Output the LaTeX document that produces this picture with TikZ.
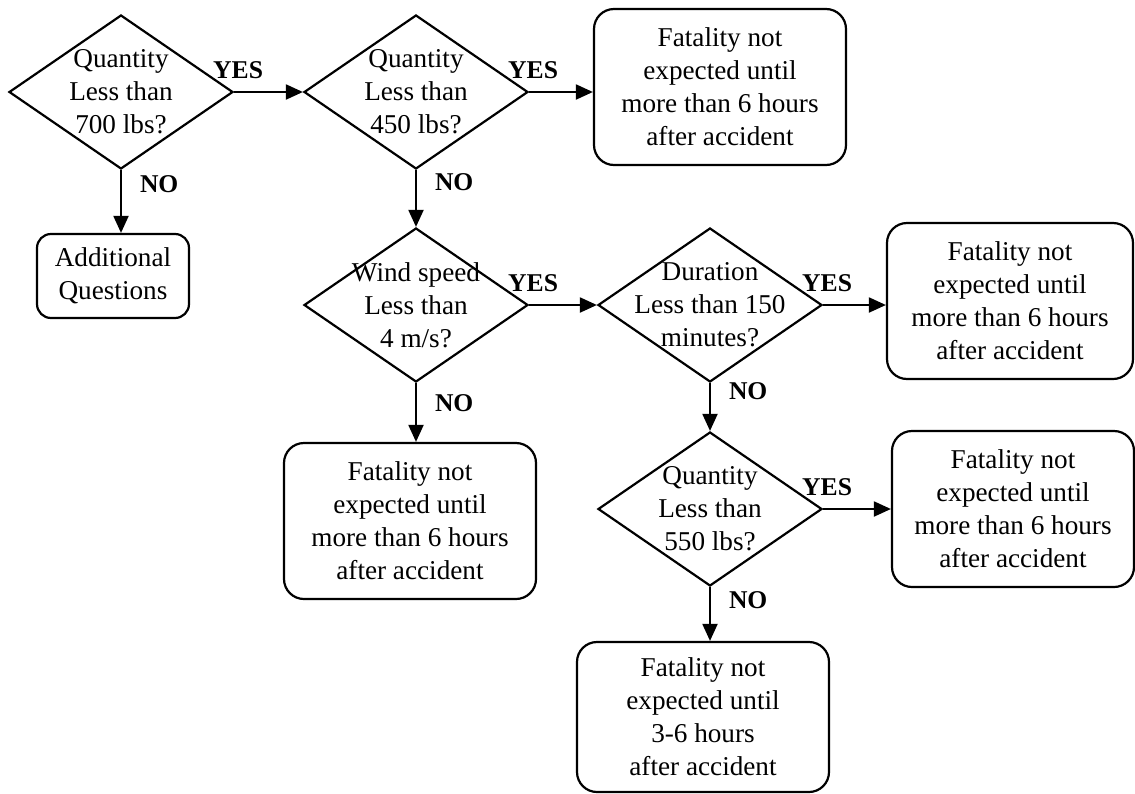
\documentclass[tikz,border=0pt]{standalone}
\usepackage{fontspec}
\setmainfont{Liberation Serif}
\usetikzlibrary{shapes,arrows.meta,shapes.misc}
\usetikzlibrary{positioning}

\begin{document}
\begin{tikzpicture}[x=0.5pt,y=-0.5pt,
		every node/.style={font=\fontsize{13.6}{16.5}\selectfont},
		domanda/.style={diamond,draw,line width=1.1pt,minimum width=112pt,minimum height=77pt,inner sep=-20pt,align=center,execute at begin node=\rule{0pt}{15pt}},
		esito/.style={rectangle,draw,line width=1.1pt,rounded corners=10pt,minimum width=126pt,minimum height=78pt,align=center},
		freccia/.style={line width=1pt,-{Triangle[length=8.5pt,width=7.5pt]}},
		ramosi/.style={font=\bfseries\fontsize{12.8}{14}\selectfont,inner sep=1pt,pos=0,above=5pt,xshift=2pt},
		ramono/.style={font=\bfseries\fontsize{12.8}{14}\selectfont,inner sep=1pt,right=8pt}]
		\useasboundingbox (0,0) rectangle (1135,793);
		% domande
		\node[domanda] (q700) at (121,92) {Quantity\\Less than\\700 lbs?};
		\node[domanda] (q450) at (416,92) {Quantity\\Less than\\450 lbs?};
		\node[domanda] (vento) at (416,305) {Wind speed\\Less than\\4 m/s?};
		\node[domanda] (durata) at (710,305) {Duration\\Less than 150\\minutes?};
		\node[domanda] (q550) at (710,509) {Quantity\\Less than\\550 lbs?};
		% esiti
		\node[esito,minimum width=76pt,minimum height=42pt,rounded corners=7pt] (altre) at (113,276) {Additional\\Questions};
		\node[esito] (e1) at (720,87) {Fatality not\\expected until\\more than 6 hours\\after accident};
		\node[esito,minimum width=123pt] (e2) at (1010,301) {Fatality not\\expected until\\more than 6 hours\\after accident};
		\node[esito,minimum width=121pt] (e3) at (1013,509) {Fatality not\\expected until\\more than 6 hours\\after accident};
		\node[esito] (e4) at (410,521) {Fatality not\\expected until\\more than 6 hours\\after accident};
		\node[esito,minimum height=75pt] (e5) at (703,717) {Fatality not\\expected until\\3-6 hours\\after accident};
		% collegamenti
		\draw[freccia] (q700.east) -- node[ramosi] (si1) {YES} (q450.west);
		\draw[freccia] (q450.east) -- node[ramosi] (si2) {YES} (q450.east -| e1.west);
		\draw[freccia] (vento.east) -- node[ramosi] (si3) {YES} (durata.west);
		\draw[freccia] (durata.east) -- node[ramosi] (si4) {YES} (durata.east -| e2.west);
		\draw[freccia] (q550.east) -- node[ramosi] (si5) {YES} (q550.east -| e3.west);
		\draw[freccia] (q700.south) -- node[ramono,pos=.22] (no1) {NO} (q700.south |- altre.north);
		\draw[freccia] (q450.south) -- node[ramono,pos=.22] (no2) {NO} (vento.north);
		\draw[freccia] (vento.south) -- node[ramono,pos=.34] (no3) {NO} (vento.south |- e4.north);
		\draw[freccia] (durata.south) -- node[ramono,pos=.16] (no4) {NO} (q550.north);
		\draw[freccia] (q550.south) -- node[ramono,pos=.25] (no5) {NO} (q550.south |- e5.north);
	\end{tikzpicture}
\end{document}
